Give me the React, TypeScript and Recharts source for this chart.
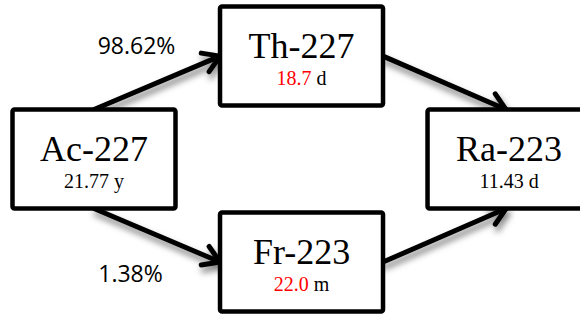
import { ReferenceLine, Scatter, ScatterChart, XAxis, YAxis } from "recharts";

// decay chain: nuclides, half-lives and branching ratios
const NUCLIDES = ["Ac-227", "Th-227", "Fr-223", "Ra-223"];
const HALF_LIVES = ["21.77", "18.7", "22.0", "11.43"];
const UNITS = ["y", "d", "m", "d"];
const HIGHLIGHTED = [false, true, true, false];
// grid slot of each nuclide in the scheme (column, row)
const COLUMNS = [0, 1, 1, 2];
const ROWS = [1, 0, 2, 1];

const LINK_FROM = [0, 0, 1, 2];
const LINK_TO = [1, 2, 3, 3];
const BRANCHING = ["98.62%", "1.38%", "", ""];

const BOX_W = 163;
const BOX_H = 99;
const SERIF = "'Liberation Serif', 'Times New Roman', serif";

const nodes = NUCLIDES.map((name, i) => ({
  name,
  halfLife: HALF_LIVES[i],
  unit: UNITS[i],
  highlight: HIGHLIGHTED[i],
  col: COLUMNS[i],
  row: ROWS[i],
}));

function NuclideBox(props: any) {
  const { cx, cy, payload } = props;
  return (
    <g>
      <rect
        x={cx - BOX_W / 2}
        y={cy - BOX_H / 2}
        width={BOX_W}
        height={BOX_H}
        rx={2}
        fill="#fff"
        stroke="#000"
        strokeWidth={4.5}
      />
      <text x={cx} y={cy + 2} textAnchor="middle" fontFamily={SERIF} fontSize={36} fill="#000">
        {payload.name}
      </text>
      <text x={cx} y={cy + 29} textAnchor="middle" fontFamily={SERIF} fontSize={20} fill="#000">
        <tspan fill={payload.highlight ? "#ff0000" : "#000"}>{payload.halfLife}</tspan> {payload.unit}
      </text>
    </g>
  );
}

function DecayArrow(props: any) {
  const { x1, y1, x2, y2, fromRow, label, id } = props;
  const dir = Math.sign(y2 - y1);
  let sx, sy, ex, ey;
  if (fromRow === 1) {
    sx = x1;
    sy = y1 + dir * BOX_H / 2;
    ex = x2 - BOX_W / 2;
    ey = y2;
  } else {
    sx = x1 + BOX_W / 2;
    sy = y1;
    ex = x2 - 3;
    ey = y2 - dir * BOX_H / 2;
  }
  const back = Math.atan2(sy - ey, sx - ex);
  const spread = (32 * Math.PI) / 180;
  const len = 19;
  const a1 = [ex + len * Math.cos(back + spread), ey + len * Math.sin(back + spread)];
  const a2 = [ex + len * Math.cos(back - spread), ey + len * Math.sin(back - spread)];
  const mx = (sx + ex) / 2;
  const my = (sy + ey) / 2;
  return (
    <g>
      <defs>
        <filter id={`shadow-${id}`} x="-20%" y="-40%" width="140%" height="180%">
          <feDropShadow dx={2} dy={5} stdDeviation={3} floodColor="#000" floodOpacity={0.5} />
        </filter>
      </defs>
      <g filter={`url(#shadow-${id})`} stroke="#000" strokeWidth={5} fill="none" strokeLinecap="round" strokeLinejoin="round">
        <line x1={sx} y1={sy} x2={ex} y2={ey} />
        <polyline points={`${a1[0]},${a1[1]} ${ex},${ey} ${a2[0]},${a2[1]}`} />
      </g>
      {label ? (
        <text
          x={mx + (dir < 0 ? -20.5 : -26.5)}
          y={dir < 0 ? my - 28.5 : my + 46.5}
          textAnchor="middle"
          fontFamily="'Open Sans', sans-serif"
          fontSize={23}
          fill="#000"
        >
          {label}
        </text>
      ) : null}
    </g>
  );
}

export default function App() {
  return (
    <div style={{ position: "absolute", left: 0, top: 0, width: 580, height: 314, background: "#fff" }}>
      <style>{`body{margin:0}`}</style>
      <ScatterChart width={580} height={314} margin={{ top: 0, right: 0, bottom: 0, left: 0 }}>
        <XAxis type="number" dataKey="col" domain={[-0.453, 2.342]} hide />
        <YAxis type="number" dataKey="row" domain={[-0.545, 2.505]} reversed hide />
        <Scatter data={nodes} shape={NuclideBox} isAnimationActive={false} />
        {LINK_FROM.map((from, i) => {
          const to = LINK_TO[i];
          return (
            <ReferenceLine
              key={`link-${i}`}
              segment={[
                { x: COLUMNS[from], y: ROWS[from] },
                { x: COLUMNS[to], y: ROWS[to] },
              ]}
              shape={(p: any) => (
                <DecayArrow {...p} fromRow={ROWS[from]} label={BRANCHING[i]} id={i} />
              )}
            />
          );
        })}
      </ScatterChart>
    </div>
  );
}
